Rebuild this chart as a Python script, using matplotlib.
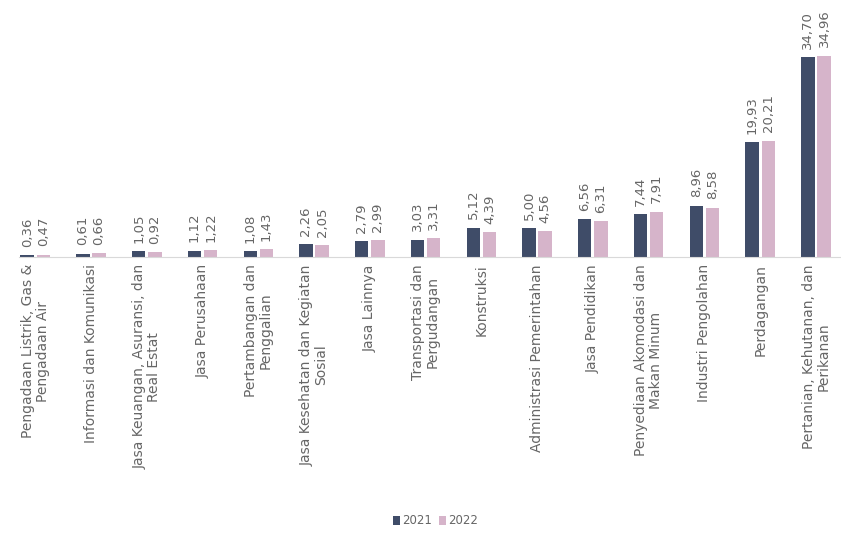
import numpy as np
import matplotlib.pyplot as plt

# ================= DATA =================
categories = [
    "Pengadaan Listrik, Gas &\nPengadaan Air",
    "Informasi dan Komunikasi",
    "Jasa Keuangan, Asuransi, dan\nReal Estat",
    "Jasa Perusahaan",
    "Pertambangan dan\nPenggalian",
    "Jasa Kesehatan dan Kegiatan\nSosial",
    "Jasa Lainnya",
    "Transportasi dan\nPergudangan",
    "Konstruksi",
    "Administrasi Pemerintahan",
    "Jasa Pendidikan",
    "Penyediaan Akomodasi dan\nMakan Minum",
    "Industri Pengolahan",
    "Perdagangan",
    "Pertanian, Kehutanan, dan\nPerikanan",
]
values_2021 = [0.36, 0.61, 1.05, 1.12, 1.08, 2.26, 2.79, 3.03, 5.12, 5.00, 6.56, 7.44, 8.96, 19.93, 34.70]
values_2022 = [0.47, 0.66, 0.92, 1.22, 1.43, 2.05, 2.99, 3.31, 4.39, 4.56, 6.31, 7.91, 8.58, 20.21, 34.96]
series_names = ["2021", "2022"]

color_2021 = "#3f4c68"
color_2022 = "#d6b4ca"
text_gray = "#666666"

plt.rcParams['font.family'] = ['DejaVu Sans']

# ================= PLOT =================
fig = plt.figure(figsize=(8.41, 5.36), dpi=100)
ax = fig.add_axes([0.022, 0.52, 0.978, 0.48])

x = np.arange(len(categories))
w = 0.24
off = 0.145
b1 = ax.bar(x - off, values_2021, w, color=color_2021, label=series_names[0])
b2 = ax.bar(x + off, values_2022, w, color=color_2022, label=series_names[1])

def fmt(v):
    return f"{v:.2f}".replace(".", ",")

# value labels above each bar, rotated
for bars, vals in [(b1, values_2021), (b2, values_2022)]:
    for rect, v in zip(bars, vals):
        ax.annotate(fmt(v), (rect.get_x() + rect.get_width() / 2, rect.get_height()),
                    xytext=(0, 6), textcoords="offset points",
                    rotation=90, ha="center", va="bottom",
                    fontsize=9.5, color=text_gray)

ax.set_xlim(-0.3, len(categories) - 0.55)
ax.set_ylim(0, 44.6)
ax.set_xticks(x)
ax.set_xticklabels(categories, rotation=90, ha="center", va="top",
                   multialignment="center", fontsize=10, color=text_gray,
                   linespacing=1.05)
ax.tick_params(axis="x", length=0, pad=5)
ax.set_yticks([])

for s in ["top", "right", "left"]:
    ax.spines[s].set_visible(False)
ax.spines["bottom"].set_color("#d9d9d9")

fig.legend(handles=[b1, b2], labels=series_names, loc="center",
           bbox_to_anchor=(0.518, 0.028), ncol=2, frameon=False,
           fontsize=8.5, labelcolor=text_gray, handlelength=0.6,
           handleheight=0.8, handletextpad=0.2, columnspacing=0.6)

fig.savefig("out.png", dpi=100)
